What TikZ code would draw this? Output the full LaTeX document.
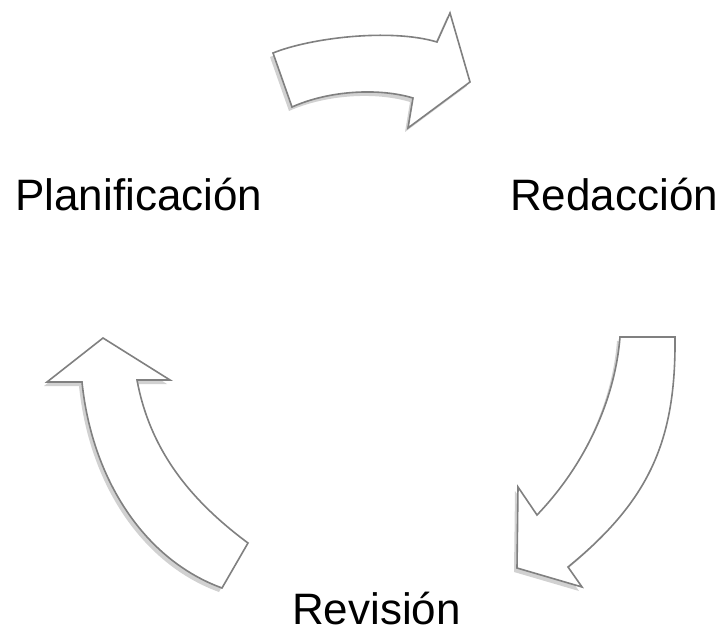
\documentclass[tikz,border=0pt]{standalone}
\usepackage{fontspec}
\setmainfont{Liberation Sans}
\usetikzlibrary{shadows}
\begin{document}
\begin{tikzpicture}[x=1pt,y=-1pt,
  bigarrow/.style={draw=black!50,line width=1.6pt,fill=white,line join=miter,
    drop shadow={shadow xshift=-3pt,shadow yshift=-4pt,opacity=0.18,fill=black}},
  label/.style={inner sep=0pt,anchor=base west,font=\fontsize{44}{50}\selectfont}]
\fill[white] (0,0) rectangle (723,628);
\useasboundingbox (0,0) rectangle (723,628);
% top arrow
\path[bigarrow] (273,53) .. controls (310,38) and (390,28) .. (437,42) -- (450,13) -- (470,82) -- (408,128) -- (413,98) .. controls (380,88) and (330,90) .. (292,107) -- cycle;
% right arrow
\path[bigarrow] (620,337) -- (675,337) .. controls (676,440) and (650,500) .. (568,567) -- (582,587) -- (517,568) -- (518,487) -- (537,515) .. controls (585,465) and (615,400) .. (620,337) -- cycle;
% left arrow
\path[bigarrow] (103,338) -- (170,380) -- (137,380) .. controls (150,450) and (190,500) .. (248,543) -- (222,588) .. controls (145,560) and (92,480) .. (82,382) -- (47,382) -- cycle;
\node[label] (plan) at (15,211) {Planificación};
\node[label] (red) at (510,211) {Redacción};
\node[label] (rev) at (292,624) {Revisión};
\end{tikzpicture}
\end{document}
